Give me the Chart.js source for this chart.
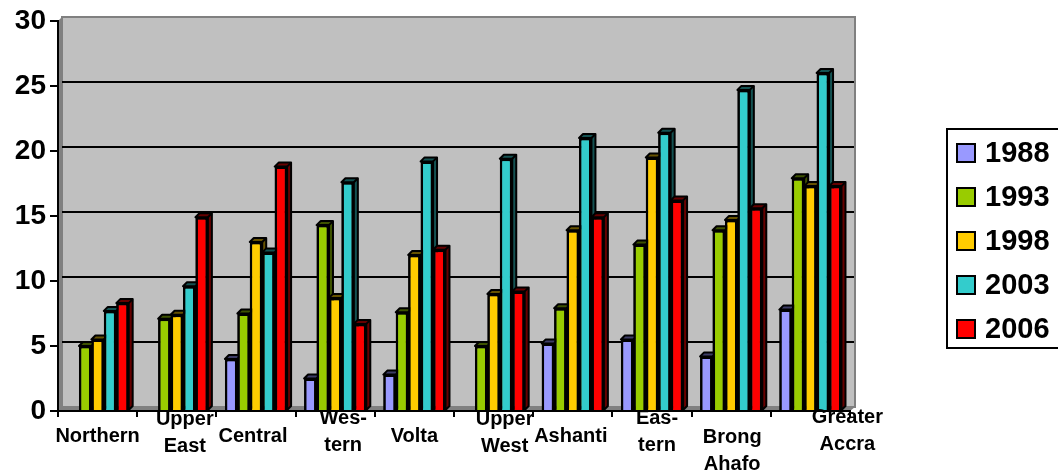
<!DOCTYPE html>
<html>
<head>
<meta charset="utf-8">
<style>
  html, body { margin: 0; padding: 0; background: #fff; overflow: hidden; }
  canvas { display: block; }
</style>
<script src="https://cdn.jsdelivr.net/npm/chart.js@4"></script>
</head>
<body>
<canvas id="myChart" width="1058" height="473"></canvas>
<script>
const categories = ['Northern', 'Upper East', 'Central', 'Western', 'Volta', 'Upper West', 'Ashanti', 'Eastern', 'Brong Ahafo', 'Greater Accra'];
const years = ['1988', '1993', '1998', '2003', '2006'];
const v1988 = [null, null, 4.0, 2.5, 2.8, null, 5.2, 5.5, 4.2, 7.8];
const v1993 = [5.0, 7.1, 7.5, 14.3, 7.6, 5.0, 7.9, 12.8, 13.9, 17.9];
const v1998 = [5.5, 7.4, 13.0, 8.7, 12.0, 9.0, 13.9, 19.5, 14.7, 17.3];
const v2003 = [7.7, 9.6, 12.2, 17.6, 19.2, 19.4, 21.0, 21.4, 24.7, 26.0];
const v2006 = [8.3, 14.9, 18.8, 6.7, 12.4, 9.2, 14.9, 16.2, 15.6, 17.3];
const yTicks = [0, 5, 10, 15, 20, 25, 30];

// wrapped the way the original axis wraps them
const labelLines = [['Northern'], ['Upper', 'East'], ['Central'], ['Wes-', 'tern'], ['Volta'], ['Upper', 'West'], ['Ashanti'], ['Eas-', 'tern'], ['Brong', 'Ahafo'], ['Greater', 'Accra']];
// layout only: the labels sit off centre in the original
const labelShift = [0, 8, -3, 8, 0, 11, -2, 5, 1, 37];
const labelTop = [436, 419, 436, 418, 436, 419, 436, 418, 437, 417];

const colors = ['#9999ff', '#99cc00', '#ffcc00', '#33cccc', '#ff0000'];
const darkColors = ['#3d3d66', '#3d5200', '#665200', '#145252', '#660000'];
const values = [v1988, v1993, v1998, v2003, v2006];
const depth = 4;
const fontName = '"Liberation Sans", Arial, sans-serif';

// back wall, side wall, floor and the gridlines on the wall
const wallPlugin = {
    id: 'wall',
    beforeDraw(chart) {
        const c = chart.ctx, a = chart.chartArea, y = chart.scales.y;
        c.save();
        c.fillStyle = '#c0c0c0';
        c.fillRect(a.left + depth, a.top - depth, a.width + 1, a.height);
        c.strokeStyle = '#808080';
        c.lineWidth = 2;
        c.strokeRect(a.left + depth, a.top - depth, a.width + 1, a.height);
        c.fillStyle = '#808080';
        c.beginPath();
        c.moveTo(a.left, a.top);
        c.lineTo(a.left + depth, a.top - depth);
        c.lineTo(a.left + depth, a.bottom - depth);
        c.lineTo(a.right + depth + 1, a.bottom - depth);
        c.lineTo(a.right, a.bottom);
        c.lineTo(a.left, a.bottom);
        c.closePath();
        c.fill();
        c.strokeStyle = '#000';
        yTicks.forEach(t => {
            if (t === 0 || t === 30) return;
            const py = y.getPixelForValue(t) - depth;
            c.beginPath();
            c.moveTo(a.left + depth, py);
            c.lineTo(a.right + depth, py);
            c.stroke();
        });
        c.restore();
    },
    // repaint series left to right with side and top faces, so the next bar covers them
    afterDatasetsDraw(chart) {
        const c = chart.ctx;
        years.forEach((year, d) => {
            const meta = chart.getDatasetMeta(d);
            c.save();
            c.lineJoin = 'round';
            meta.data.forEach((bar, i) => {
                if (values[d][i] === null) return;
                bar.draw(c);
                const l = bar.x - bar.width / 2, r = bar.x + bar.width / 2;
                c.lineWidth = 2;
                c.strokeStyle = '#000';
                c.fillStyle = darkColors[d];
                c.beginPath();
                c.moveTo(l, bar.y);
                c.lineTo(l + depth, bar.y - depth);
                c.lineTo(r + depth, bar.y - depth);
                c.lineTo(r + depth, bar.base - depth);
                c.lineTo(r, bar.base);
                c.lineTo(r, bar.y);
                c.closePath();
                c.fill();
                c.stroke();
                c.beginPath();
                c.moveTo(r, bar.y);
                c.lineTo(r + depth, bar.y - depth);
                c.stroke();
            });
            c.restore();
        });
    },
    afterDraw(chart) {
        const c = chart.ctx, x = chart.scales.x;
        c.save();
        c.fillStyle = '#000';
        c.textAlign = 'center';
        c.textBaseline = 'middle';
        c.font = 'bold 20px ' + fontName;
        labelLines.forEach((lines, i) => {
            const px = x.getPixelForValue(i) + labelShift[i];
            lines.forEach((line, k) => c.fillText(line, px, labelTop[i] + k * 27));
        });
        // legend box runs off the right edge like in the original
        c.fillStyle = '#fff';
        c.fillRect(947, 129, 120, 219);
        c.strokeStyle = '#000';
        c.lineWidth = 2;
        c.strokeRect(947, 129, 120, 219);
        c.textAlign = 'left';
        c.font = 'bold 29px ' + fontName;
        years.forEach((year, i) => {
            const cy = 153 + i * 44;
            c.fillStyle = colors[i];
            c.fillRect(957, cy - 9, 18, 18);
            c.strokeRect(957, cy - 9, 18, 18);
            c.fillStyle = '#000';
            c.fillText(year, 985, cy + 1);
        });
        c.restore();
    }
};

const datasets = years.map((year, i) => ({
    label: year,
    data: values[i],
    backgroundColor: colors[i],
    borderColor: '#000',
    borderWidth: 2.5
}));

new Chart(document.getElementById('myChart'), {
    type: 'bar',
    data: { labels: categories, datasets: datasets },
    plugins: [wallPlugin],
    options: {
        responsive: false,
        animation: false,
        layout: { padding: { left: 0, right: 208, top: 21, bottom: 0 } },
        datasets: { bar: { categoryPercentage: 0.785, barPercentage: 1 } },
        plugins: { legend: { display: false }, tooltip: { enabled: false } },
        scales: {
            x: {
                afterFit: s => { s.height = 62; },
                grid: { drawOnChartArea: false, color: '#000', lineWidth: 2, tickLength: 6 },
                border: { color: '#000', width: 2 },
                ticks: { display: false }
            },
            y: {
                min: 0,
                max: 30,
                afterFit: s => { s.width = 58; },
                afterBuildTicks: s => { s.ticks = yTicks.map(v => ({ value: v })); },
                grid: { drawOnChartArea: false, color: '#000', lineWidth: 2, tickLength: 8 },
                border: { color: '#000', width: 2 },
                ticks: { color: '#000', padding: 4, font: { family: fontName, size: 28, weight: 'bold' } }
            }
        }
    }
});
</script>
</body>
</html>
